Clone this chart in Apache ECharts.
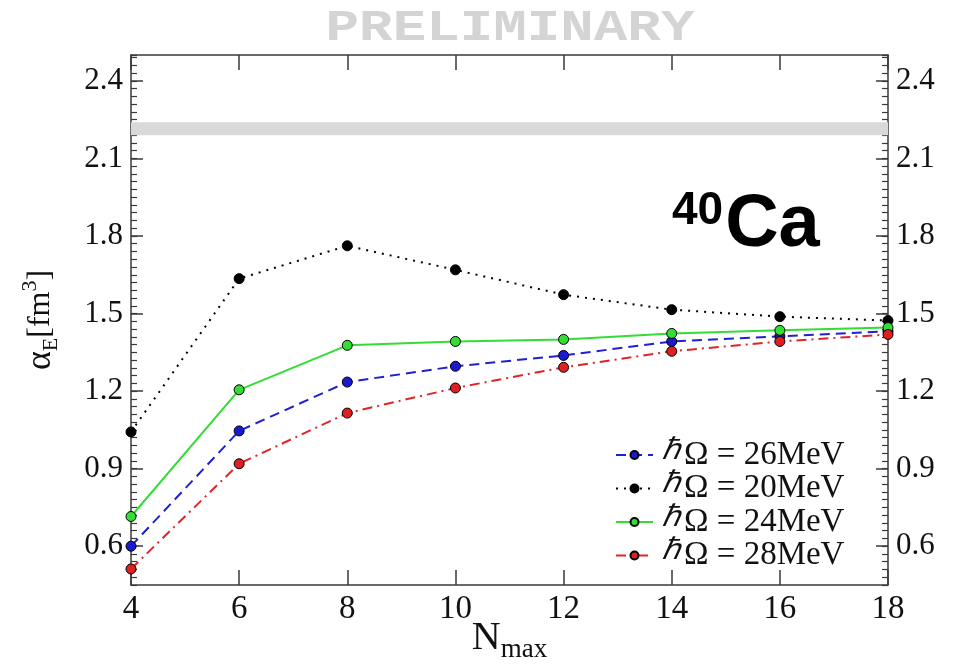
<!DOCTYPE html>
<html>
<head>
<meta charset="UTF-8">
<title>40Ca alpha_E</title>
<script src="https://fastly.jsdelivr.net/npm/echarts@6.0.0/dist/echarts.min.js"></script>
<style>html,body{margin:0;padding:0;background:#fff}</style>
</head>
<body>
<div id="main" style="width:955px;height:668px;"></div>
<script>
var nmax = [4, 6, 8, 10, 12, 14, 16, 18];
var hw26 = [0.60, 1.046, 1.235, 1.296, 1.338, 1.392, 1.412, 1.431];
var hw20 = [1.042, 1.635, 1.762, 1.669, 1.573, 1.515, 1.488, 1.473];
var hw24 = [0.715, 1.205, 1.377, 1.392, 1.400, 1.423, 1.435, 1.446];
var hw28 = [0.512, 0.919, 1.115, 1.212, 1.292, 1.354, 1.392, 1.419];
var yTicks = [0.6, 0.9, 1.2, 1.5, 1.8, 2.1, 2.4];
var band = [2.19, 2.24];

function pairs(ys) {
    return nmax.map(function (x, i) { return [x, ys[i]]; });
}

var myChart = echarts.init(document.getElementById('main'));
var serif = 'Liberation Serif';
var axisCol = '#3a3a3a';

function yAxisMajor(pos) {
    return {
        type: 'value', position: pos, min: 0.45, max: 2.5,
        axisLine: {show: true, lineStyle: {color: axisCol, width: 1.5}},
        axisTick: {show: true, inside: true, length: 12, customValues: yTicks, lineStyle: {color: axisCol, width: 1.5}},
        axisLabel: {show: true, customValues: yTicks, margin: 8, fontFamily: serif, fontSize: 31, color: '#111',
            formatter: function (v) { return v.toFixed(1); }},
        splitLine: {show: false}
    };
}
function yAxisMinor(pos) {
    return {
        type: 'value', position: pos, min: 0.45, max: 2.5, interval: 0.03,
        axisLine: {show: false},
        axisTick: {show: true, inside: true, length: 6, lineStyle: {color: axisCol, width: 1.2}},
        axisLabel: {show: false},
        splitLine: {show: false}
    };
}

var sym = {symbol: 'circle', symbolSize: 10};

var option = {
    backgroundColor: '#fff',
    animation: false,
    graphic: [{
        type: 'text', x: 510, y: 7, scaleX: 1.27,
        style: {
            text: 'PRELIMINARY', align: 'center', verticalAlign: 'top',
            fontFamily: 'Liberation Mono', fontWeight: 'bold', fontSize: 44, fill: '#d4d4d4'
        }
    }, {
        type: 'text', left: 672, top: 188,
        style: {
            text: '{s|40}{c|Ca}',
            rich: {
                s: {fontFamily: 'Liberation Sans', fontWeight: 'bold', fontSize: 46, fill: '#000', padding: [0, 2, 30, 0]},
                c: {fontFamily: 'Liberation Sans', fontWeight: 'bold', fontSize: 74, fill: '#000'}
            }
        }
    }],
    grid: {left: 131, right: 67, top: 55, bottom: 83, outerBoundsMode: 'none'},
    legend: {
        orient: 'vertical', left: 615, top: 436, padding: 0, itemGap: -2, itemWidth: 37, itemHeight: 10,
        data: ['26', '20', '24', '28'],
        formatter: function (n) { return '{h|\u210F}{t|\u03A9 = ' + n + 'MeV}'; },
        textStyle: {
            fontFamily: serif, fontSize: 33, color: '#111', lineHeight: 33,
            rich: {
                h: {fontFamily: serif, fontSize: 30, fontStyle: 'italic', color: '#111', padding: [0, 4, 8, 4]},
                t: {fontFamily: serif, fontSize: 33, color: '#111'}
            }
        }
    },
    xAxis: [{
        type: 'value', min: 4, max: 18, interval: 2, position: 'bottom',
        name: '{n|N}{s|max}', nameLocation: 'middle', nameGap: 29, nameMoveOverlap: false,
        nameTextStyle: {rich: {
            n: {fontFamily: serif, fontSize: 40, color: '#111'},
            s: {fontFamily: serif, fontSize: 27, color: '#111', padding: [22, 0, 0, 0]}
        }},
        axisLine: {show: true, lineStyle: {color: axisCol, width: 1.5}},
        axisTick: {show: true, inside: true, length: 15, lineStyle: {color: axisCol, width: 1.5}},
        axisLabel: {margin: 8, fontFamily: serif, fontSize: 33, color: '#111'},
        splitLine: {show: false}
    }, {
        type: 'value', min: 4, max: 18, interval: 2, position: 'top',
        axisLine: {show: true, lineStyle: {color: axisCol, width: 1.5}},
        axisTick: {show: true, inside: true, length: 15, lineStyle: {color: axisCol, width: 1.5}},
        axisLabel: {show: false},
        splitLine: {show: false}
    }],
    yAxis: [
        Object.assign(yAxisMajor('left'), {
            name: '{a|\u03B1}{e|E}{b|[fm}{p|3}{b|]}', nameLocation: 'middle', nameGap: 68, nameRotate: 90,
            nameMoveOverlap: false,
            nameTextStyle: {rich: {
                a: {fontFamily: serif, fontSize: 36, color: '#111'},
                e: {fontFamily: serif, fontSize: 22, color: '#111', padding: [20, 0, 0, 0]},
                b: {fontFamily: serif, fontSize: 32, color: '#111'},
                p: {fontFamily: serif, fontSize: 22, color: '#111', padding: [0, 0, 22, 0]}
            }}
        }),
        yAxisMajor('right'),
        yAxisMinor('left'),
        yAxisMinor('right')
    ],
    series: [{
        name: '26', type: 'line', data: pairs(hw26), ...sym,
        lineStyle: {color: '#2020d0', width: 2, type: [10, 6]},
        itemStyle: {color: '#1a1ad0', borderColor: '#000', borderWidth: 1},
        markArea: {
            silent: true,
            itemStyle: {color: '#d9d9d9'},
            data: [[{xAxis: 4, yAxis: band[0]}, {xAxis: 18, yAxis: band[1]}]]
        },
        z: 3
    }, {
        name: '20', type: 'line', data: pairs(hw20), ...sym,
        lineStyle: {color: '#000', width: 2, type: [2, 6]},
        itemStyle: {color: '#000', borderColor: '#000', borderWidth: 1},
        z: 3
    }, {
        name: '24', type: 'line', data: pairs(hw24), ...sym,
        lineStyle: {color: '#33dd33', width: 2, type: 'solid'},
        itemStyle: {color: '#33dd33', borderColor: '#000', borderWidth: 1},
        z: 3
    }, {
        name: '28', type: 'line', data: pairs(hw28), ...sym,
        lineStyle: {color: '#e02525', width: 2, type: [10, 5, 2, 5]},
        itemStyle: {color: '#e02020', borderColor: '#000', borderWidth: 1},
        z: 3
    }]
};
myChart.setOption(option);
</script>
</body>
</html>
